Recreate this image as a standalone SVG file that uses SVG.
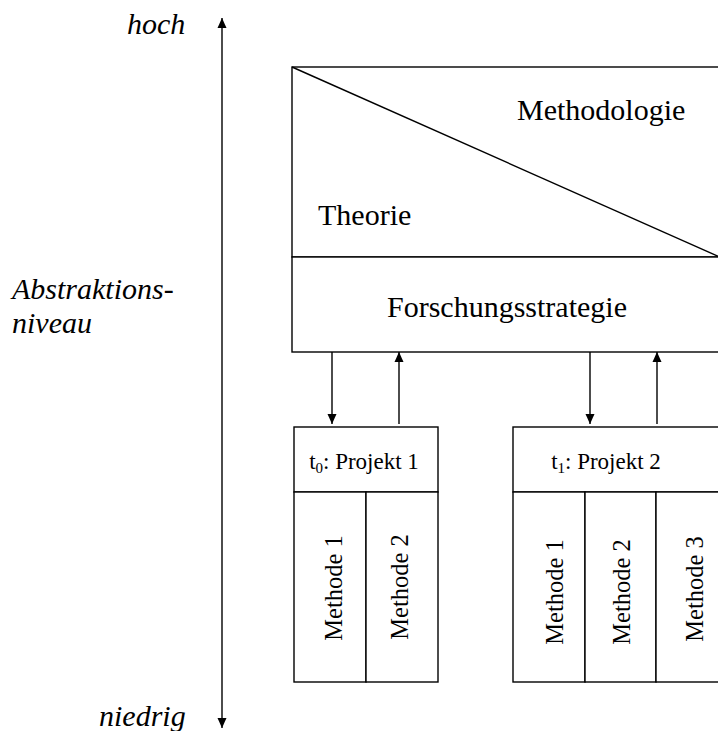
<svg xmlns="http://www.w3.org/2000/svg" width="718" height="731" viewBox="0 0 718 731">
<style>
.ln{stroke:#000;stroke-width:1.4;fill:none}
.bx{stroke:#000;stroke-width:1.4;fill:#fff}
.t{font-family:"Liberation Serif","Times New Roman",serif;fill:#000}
.big{font-size:30px}
.hd{font-size:23px}
.mid{font-size:24.5px}
.it{font-family:"Liberation Serif","Times New Roman",serif;font-style:italic;font-size:30px;fill:#000}
</style>
<defs>
<marker id="ah" viewBox="0 0 10 10" refX="10" refY="5" markerWidth="10" markerHeight="10" markerUnits="userSpaceOnUse" orient="auto">
<path d="M0,0.5 L10,5 L0,9.5 Z" fill="#000"/>
</marker>
</defs>
<g id="axis">
<line class="ln" x1="222" y1="370" x2="222" y2="18" marker-end="url(#ah)"/>
<line class="ln" x1="222" y1="370" x2="222" y2="728" marker-end="url(#ah)"/>
<text class="it" x="127" y="34">hoch</text>
<text class="it" x="12" y="299">Abstraktions-</text>
<text class="it" x="12" y="333">niveau</text>
<text class="it" x="99" y="726">niedrig</text>
</g>
<g id="theorie-methodologie">
<rect class="bx" x="292" y="67" width="430" height="190"/>
<line class="ln" x1="292" y1="67" x2="722" y2="258"/>
<text class="t big" x="517" y="120">Methodologie</text>
<text class="t big" x="318" y="225">Theorie</text>
</g>
<g id="forschungsstrategie">
<rect class="bx" x="292" y="257" width="430" height="95"/>
<text class="t big" x="507" y="317" text-anchor="middle">Forschungsstrategie</text>
</g>
<g id="projekt1">
<rect class="bx" x="294" y="427" width="144" height="65"/>
<text class="t hd" x="364" y="469" text-anchor="middle">t<tspan font-size="15" dy="4">0</tspan><tspan dy="-4">: Projekt 1</tspan></text>
<rect class="bx" x="294" y="492" width="72" height="190"/>
<rect class="bx" x="366" y="492" width="72" height="190"/>
<text class="t mid" transform="translate(342,588) rotate(-90)" text-anchor="middle">Methode 1</text>
<text class="t mid" transform="translate(408,587) rotate(-90)" text-anchor="middle">Methode 2</text>
</g>
<g id="projekt2">
<rect class="bx" x="513" y="427" width="215" height="65"/>
<text class="t hd" x="606" y="469" text-anchor="middle">t<tspan font-size="15" dy="4">1</tspan><tspan dy="-4">: Projekt 2</tspan></text>
<rect class="bx" x="513" y="492" width="72" height="190"/>
<rect class="bx" x="585" y="492" width="71" height="190"/>
<rect class="bx" x="656" y="492" width="72" height="190"/>
<text class="t mid" transform="translate(563,592) rotate(-90)" text-anchor="middle">Methode 1</text>
<text class="t mid" transform="translate(630,592) rotate(-90)" text-anchor="middle">Methode 2</text>
<text class="t mid" transform="translate(703,589) rotate(-90)" text-anchor="middle">Methode 3</text>
</g>
<g id="connectors">
<line class="ln" x1="332" y1="352" x2="332" y2="424" marker-end="url(#ah)"/>
<line class="ln" x1="399" y1="424" x2="399" y2="352" marker-end="url(#ah)"/>
<line class="ln" x1="590" y1="352" x2="590" y2="424" marker-end="url(#ah)"/>
<line class="ln" x1="657" y1="424" x2="657" y2="352" marker-end="url(#ah)"/>
</g>
</svg>
